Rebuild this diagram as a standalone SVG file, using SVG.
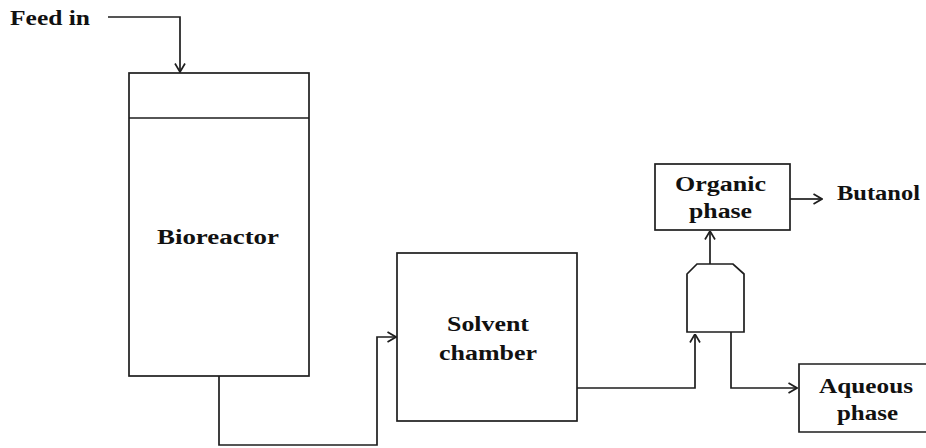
<svg xmlns="http://www.w3.org/2000/svg" width="926" height="448" viewBox="0 0 926 448">
<defs>
<style>
.box{fill:#fff;stroke:#1e1e1e;stroke-width:1.7}
.ln{fill:none;stroke:#1e1e1e;stroke-width:1.7}
.t{font-family:"Liberation Serif","Times New Roman",serif;font-weight:bold;font-size:20px;fill:#111}
</style>
<marker id="arr" viewBox="0 0 10 12" refX="9.5" refY="6" markerWidth="10" markerHeight="12" markerUnits="userSpaceOnUse" orient="auto">
<polyline points="1,1 9.5,6 1,11" fill="none" stroke="#1e1e1e" stroke-width="1.7"/>
</marker>
</defs>
<rect width="926" height="448" fill="#fff"/>
<g id="connectors">
<polyline class="ln" points="108,17 180,17 180,72" marker-end="url(#arr)"/>
<polyline class="ln" points="219,376 219,445 377,445 377,337 396,337" marker-end="url(#arr)"/>
<polyline class="ln" points="577,388 695,388 695,334" marker-end="url(#arr)"/>
<polyline class="ln" points="731,332 731,388 797,388" marker-end="url(#arr)"/>
<polyline class="ln" points="710,264 710,231" marker-end="url(#arr)"/>
<polyline class="ln" points="790,199 822,199" marker-end="url(#arr)"/>
</g>
<g id="feed">
<text class="t" x="10" y="25" textLength="80" lengthAdjust="spacingAndGlyphs">Feed in</text>
</g>
<g id="bioreactor">
<rect class="box" x="129" y="73" width="180" height="303"/>
<line class="ln" x1="129" y1="118" x2="309" y2="118"/>
<text class="t" x="157" y="244" textLength="122" lengthAdjust="spacingAndGlyphs">Bioreactor</text>
</g>
<g id="solvent">
<rect class="box" x="397" y="253" width="180" height="168"/>
<text class="t" x="447" y="331" textLength="82" lengthAdjust="spacingAndGlyphs">Solvent</text>
<text class="t" x="439" y="360" textLength="98" lengthAdjust="spacingAndGlyphs">chamber</text>
</g>
<g id="separator">
<path class="box" d="M687,332 L687,274 L697,264 L733,264 L744,274 L744,332 Z"/>
</g>
<g id="organic">
<rect class="box" x="655" y="164" width="135" height="66"/>
<text class="t" x="675" y="191" textLength="91" lengthAdjust="spacingAndGlyphs">Organic</text>
<text class="t" x="689" y="218" textLength="63" lengthAdjust="spacingAndGlyphs">phase</text>
</g>
<g id="butanol">
<text class="t" x="837" y="200" textLength="83" lengthAdjust="spacingAndGlyphs">Butanol</text>
</g>
<g id="aqueous">
<path class="box" d="M927,364 L799,364 L799,432 L927,432"/>
<text class="t" x="819" y="393" textLength="94" lengthAdjust="spacingAndGlyphs">Aqueous</text>
<text class="t" x="837" y="420" textLength="61" lengthAdjust="spacingAndGlyphs">phase</text>
</g>
</svg>
